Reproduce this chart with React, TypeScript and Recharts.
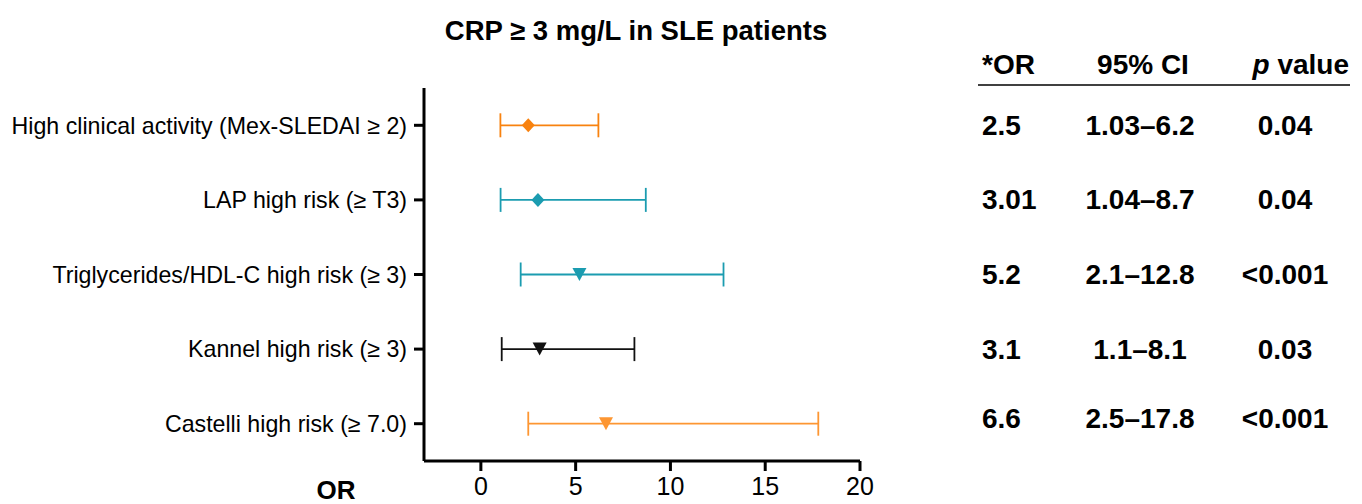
import { ErrorBar, Scatter, ScatterChart, XAxis, YAxis } from "recharts";

const categories = [
  "High clinical activity (Mex-SLEDAI ≥ 2)",
  "LAP high risk (≥ T3)",
  "Triglycerides/HDL-C high risk (≥ 3)",
  "Kannel high risk (≥ 3)",
  "Castelli high risk (≥ 7.0)",
];
const oddsRatios = [2.5, 3.01, 5.2, 3.1, 6.6];
const ciLow = [1.03, 1.04, 2.1, 1.1, 2.5];
const ciHigh = [6.2, 8.7, 12.8, 8.1, 17.8];
const orLabels = ["2.5", "3.01", "5.2", "3.1", "6.6"];
const ciLabels = ["1.03–6.2", "1.04–8.7", "2.1–12.8", "1.1–8.1", "2.5–17.8"];
const pLabels = ["0.04", "0.04", "<0.001", "0.03", "<0.001"];
const xTicks = [0, 5, 10, 15, 20];

const COLORS = ["#f8820f", "#1b9cb0", "#1b9cb0", "#111111", "#fd9632"];
const SHAPES: ("diamond" | "down")[] = ["diamond", "diamond", "down", "down", "down"];

const FONT = '"Liberation Sans", Arial, Helvetica, sans-serif';

function Marker(props: any) {
  const { cx, cy, fill, kind } = props;
  if (cx == null || cy == null) return null;
  if (kind === "diamond") {
    return (
      <polygon
        points={`${cx},${cy - 7} ${cx + 6.5},${cy} ${cx},${cy + 7} ${cx - 6.5},${cy}`}
        fill={fill}
      />
    );
  }
  return (
    <polygon
      points={`${cx - 7},${cy - 6.5} ${cx + 7},${cy - 6.5} ${cx},${cy + 6.5}`}
      fill={fill}
    />
  );
}

// table row centres (px) on the right-hand side
const rowY = [125, 199, 274, 349, 418];

export default function App() {
  const rows = categories.map((name, i) => ({
    name,
    idx: i,
    or: oddsRatios[i],
    err: [oddsRatios[i] - ciLow[i], ciHigh[i] - oddsRatios[i]],
  }));

  return (
    <div
      style={{
        position: "absolute",
        left: 0,
        top: 0,
        width: 1362,
        height: 504,
        background: "#fff",
        fontFamily: FONT,
      }}
    >
      <ScatterChart
        width={1362}
        height={504}
        margin={{ top: 88, right: 502, bottom: 0, left: 0 }}
      >
        <XAxis
          type="number"
          dataKey="or"
          domain={[-3, 20]}
          ticks={xTicks}
          allowDataOverflow
          tickSize={10}
          tickMargin={6}
          height={43}
          axisLine={{ stroke: "#000", strokeWidth: 3 }}
          tickLine={{ stroke: "#000", strokeWidth: 3 }}
          tick={{ fill: "#000", fontSize: 25, fontFamily: FONT }}
        />
        <YAxis
          type="number"
          dataKey="idx"
          domain={[-0.5, 4.5]}
          ticks={[0, 1, 2, 3, 4]}
          reversed
          width={424}
          tickSize={10}
          tickMargin={7}
          tickFormatter={(v) => categories[v] ?? ""}
          axisLine={{ stroke: "#000", strokeWidth: 3 }}
          tickLine={{ stroke: "#000", strokeWidth: 3 }}
          tick={{ fill: "#000", fontSize: 23.2, fontFamily: FONT }}
        />
        {rows.map((r, i) => (
          <Scatter
            key={r.name}
            data={[r]}
            fill={COLORS[i]}
            isAnimationActive={false}
            shape={(p: any) => <Marker {...p} fill={COLORS[i]} kind={SHAPES[i]} />}
          >
            <ErrorBar
              dataKey="err"
              direction="x"
              width={12}
              stroke={COLORS[i]}
              strokeWidth={1.8}
              isAnimationActive={false}
            />
          </Scatter>
        ))}
      </ScatterChart>

      <svg
        width={1362}
        height={504}
        style={{ position: "absolute", left: 0, top: 0, pointerEvents: "none" }}
        fontFamily={FONT}
      >
        <text x={636} y={30} textAnchor="middle" dominantBaseline="central" fontSize={27.5} fontWeight="bold">
          CRP ≥ 3 mg/L in SLE patients
        </text>
        <text x={336} y={490} textAnchor="middle" dominantBaseline="central" fontSize={26} fontWeight="bold">
          OR
        </text>

        <text x={982} y={64} dominantBaseline="central" fontSize={28} fontWeight="bold">
          *OR
        </text>
        <text x={1143} y={64} textAnchor="middle" dominantBaseline="central" fontSize={28} fontWeight="bold">
          95% CI
        </text>
        <text x={1349} y={64} textAnchor="end" dominantBaseline="central" fontSize={28} fontWeight="bold">
          <tspan fontStyle="italic">p</tspan> value
        </text>
        <line x1={978} x2={1350} y1={85} y2={85} stroke="#000" strokeWidth={1.5} />

        {rowY.map((y, i) => (
          <g key={i} fontSize={28} fontWeight="bold">
            <text x={982} y={y} dominantBaseline="central">
              {orLabels[i]}
            </text>
            <text x={1140} y={y} textAnchor="middle" dominantBaseline="central">
              {ciLabels[i]}
            </text>
            <text x={1285} y={y} textAnchor="middle" dominantBaseline="central">
              {pLabels[i]}
            </text>
          </g>
        ))}
      </svg>
    </div>
  );
}
